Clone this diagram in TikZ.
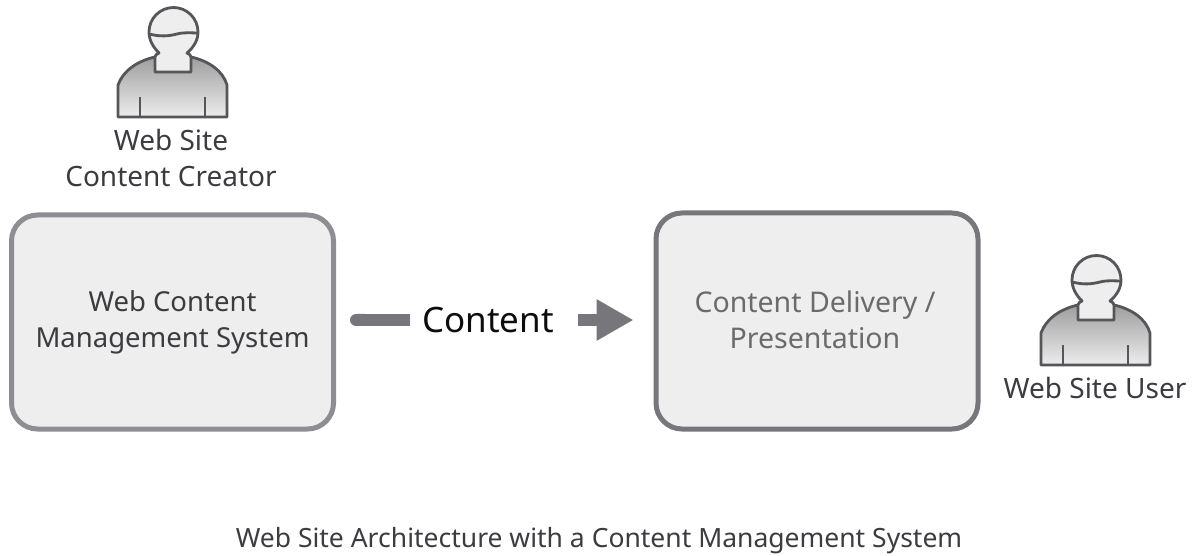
\documentclass[tikz,border=0pt]{standalone}
\usepackage{fontspec}
\setmainfont{Noto Sans}
\usetikzlibrary{arrows.meta}
\definecolor{boxfill}{HTML}{EEEEEE}
\definecolor{boxedge}{HTML}{8E8E92}
\definecolor{boxedgeb}{HTML}{77777B}
\definecolor{arrowgrey}{HTML}{77777B}
\definecolor{inkdark}{HTML}{3C3C40}
\definecolor{personedge}{HTML}{55555A}
\tikzset{
  x=1pt,y=-1pt,
  system/.style={draw=boxedge,line width=5pt,fill=boxfill,rounded corners=26pt,minimum width=#1,minimum height=214pt,align=center,inner sep=0pt,font=\fontsize{27.5}{36}\selectfont,text=inkdark},
  caption/.style={font=\fontsize{28}{36}\selectfont,text=inkdark,align=center,inner sep=0pt},
  titlecaption/.style={font=\fontsize{26.5}{35}\selectfont,text=inkdark,inner sep=0pt},
  flowlabel/.style={font=\fontsize{35}{40}\selectfont,text=black!95,inner sep=0pt},
  flow/.style={draw=arrowgrey,line width=12pt},
  personline/.style={draw=personedge,line width=2.8pt,line join=round},
  pics/person/.style={code={
    \path[personline,top color=black!38,bottom color=black!7]
      (-55,84) -- (-55,52) .. controls (-50,38) and (-36,28) .. (-18,24) -- (18,24) .. controls (36,28) and (50,38) .. (54,52) -- (54,84) -- cycle;
    \path[personline,fill=boxfill]
      (-14,20) .. controls (-20,14) and (-24,7) .. (-24,-1)
      arc[start angle=180,end angle=360,radius=24.5]
      .. controls (25,7) and (21,14) .. (14,20)
      .. controls (16,21) and (18,22) .. (18,24) -- (18,39) -- (-18,39) -- (-18,24) .. controls (-18,22) and (-16,21) .. (-14,20) -- cycle;
    \draw[personline] (-24,1) .. controls (-12,4) and (-4,3) .. (4,1) .. controls (12,-1) and (18,0) .. (25,0);
    \draw[personline] (-33,64) -- (-33,84);
    \draw[personline] (32,64) -- (32,84);
  }}
}
\begin{document}
\begin{tikzpicture}
\useasboundingbox (0,0) rectangle (1195,556);
\pic at (173,33) {person};
\pic at (1096,281) {person};
\node[caption] (creator) at (171,158) {Web Site\\Content Creator};
\node[caption] (user) at (1095,388) {Web Site User};
\node[system=322pt] (cms) at (172.5,322) {Web Content\\Management System};
\node[system=322pt,draw=boxedgeb,text=black!58,minimum height=216pt,font=\fontsize{28.5}{36}\selectfont] (delivery) at (817,321) {\raisebox{2pt}{Content Delivery /}\hspace*{4pt}\\\raisebox{2pt}{Presentation}\hspace*{4pt}};
\node[flowlabel] (content) at (488,320) {Content};
\draw[flow,{Round Cap[]}-,shorten <=14pt,shorten >=12pt] (cms.east |- content) -- (content.west);
\draw[flow,-{Triangle[length=37pt,width=39pt]},shorten <=24pt,shorten >=20pt] (content.east) -- (delivery.west |- content);
\node[titlecaption] (title) at (599,541) {Web Site Architecture with a Content Management System};
\end{tikzpicture}
\end{document}
